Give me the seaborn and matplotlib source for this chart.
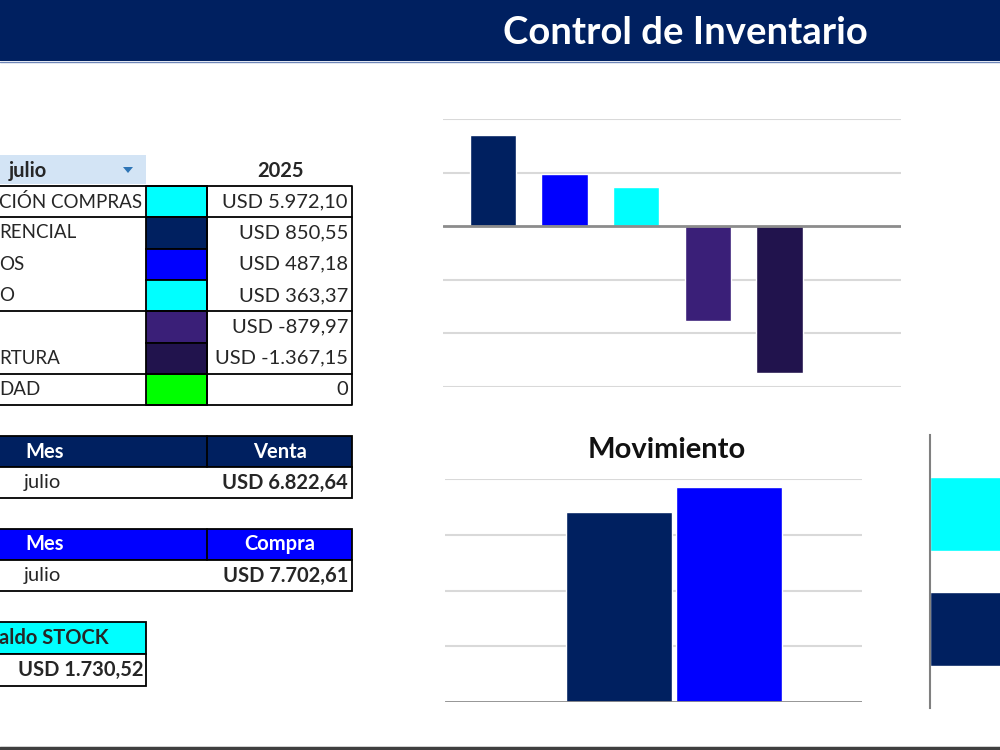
import matplotlib
matplotlib.use("Agg")
import matplotlib.pyplot as plt
import matplotlib.patches as mpatches
import seaborn as sns
import pandas as pd

# datos del tablero
mes = "julio"
anio = "2025"
conceptos = ["CIÓN COMPRAS", "RENCIAL", "OS", "O", "", "RTURA", "DAD"]
montos = [5972.10, 850.55, 487.18, 363.37, -879.97, -1367.15, 0]
colores = ["#00FFFF", "#002060", "#0000FF", "#00FFFF", "#3A1F78", "#21134D", "#00FF00"]

mov_tipo = ["Venta", "Compra"]
mov_monto = [6822.64, 7702.61]
mov_color = ["#002060", "#0000FF"]

saldo_stock = 1730.52
lat_cats = ["Saldo STOCK", "Venta"]
lat_vals = [saldo_stock, mov_monto[0]]
lat_color = ["#00FFFF", "#002060"]

NAVY = "#002060"


def usd(v):
    if v == 0:
        return "0"
    s = f"{v:,.2f}".replace(",", "X").replace(".", ",").replace("X", ".")
    return "USD " + s


sns.set_style("white")
plt.rcParams['font.family'] = ['Lato', 'DejaVu Sans']

fig = plt.figure(figsize=(10, 7.5), dpi=100)

# fondo en pixeles para encabezado y tablas
bg = fig.add_axes([0, 0, 1, 1], zorder=0)
bg.set_xlim(0, 1000)
bg.set_ylim(750, 0)
bg.axis("off")

bg.add_patch(mpatches.Rectangle((0, 0), 1000, 61, color=NAVY, lw=0))
bg.plot([0, 1000], [62, 62], color="#6F86B8", lw=1)
bg.text(685, 33, "Control de Inventario", color="white", fontsize=27.5,
        fontweight="bold", ha="center", va="center")
bg.plot([0, 1000], [747.5, 747.5], color="#3F3F3F", lw=2.5)

fs = 14.5
lw = 1.3

# tabla 1
bg.add_patch(mpatches.Rectangle((0, 155), 146, 29, color="#D3E4F5", lw=0))
bg.text(9, 171, mes, fontsize=fs, fontweight="bold", va="center")
bg.add_patch(mpatches.Polygon([[123, 167], [133, 167], [128, 173]], color="#2E75B6", lw=0))
bg.text(280, 171, anio, fontsize=fs, fontweight="bold", ha="center", va="center")

top = 186
rh = 31.3
col_clip = mpatches.Rectangle((-5, top), 151, 7 * rh, transform=bg.transData)
for i, (c, m, col) in enumerate(zip(conceptos, montos, colores)):
    y0 = top + i * rh
    bg.add_patch(mpatches.Rectangle((146, y0), 61, rh, facecolor=col,
                                    edgecolor="black", lw=lw))
    t = bg.text(-1, y0 + rh / 2, c, fontsize=13.5, va="center")
    t.set_clip_path(col_clip)
    bg.text(348, y0 + rh / 2, usd(m), fontsize=fs, ha="right", va="center")
bot = top + len(montos) * rh
bg.plot([-5, 352, 352, -5], [top, top, bot, bot], color="black", lw=lw)
for k in [1, 4, 6]:
    bg.plot([-5, 352], [top + k * rh] * 2, color="black", lw=lw)
bg.plot([207, 207], [top, bot], color="black", lw=lw)

# tablas venta / compra
for y0, head, fill, val in [(436, "Venta", NAVY, mov_monto[0]),
                             (529, "Compra", "#0000FF", mov_monto[1])]:
    bg.add_patch(mpatches.Rectangle((-5, y0), 357, 31, facecolor=fill,
                                    edgecolor="black", lw=lw))
    bg.plot([207, 207], [y0, y0 + 31], color="black", lw=lw)
    bg.text(45, y0 + 15.5, "Mes", color="white", fontsize=fs,
            fontweight="bold", ha="center", va="center")
    bg.text(280, y0 + 15.5, head, color="white", fontsize=fs,
            fontweight="bold", ha="center", va="center")
    bg.add_patch(mpatches.Rectangle((-5, y0 + 31), 357, 31, facecolor="white",
                                    edgecolor="black", lw=lw))
    bg.text(24, y0 + 46.5, mes, fontsize=fs, va="center")
    bg.text(348, y0 + 46.5, usd(val), fontsize=fs, fontweight="bold",
            ha="right", va="center")

# saldo stock
bg.add_patch(mpatches.Rectangle((-5, 622), 151, 32, facecolor="#00FFFF",
                                edgecolor="black", lw=lw))
bg.text(-1, 638, "aldo STOCK", fontsize=fs, fontweight="bold", va="center")
bg.add_patch(mpatches.Rectangle((-5, 654), 151, 32, facecolor="white",
                                edgecolor="black", lw=lw))
bg.text(143, 670, usd(saldo_stock), fontsize=fs, fontweight="bold",
        ha="right", va="center")


def clean(ax):
    ax.set_facecolor("none")
    ax.set_xlabel("")
    ax.set_ylabel("")
    ax.set_xticks([])
    ax.tick_params(left=False, bottom=False, labelleft=False, labelbottom=False)
    for s in ax.spines.values():
        s.set_visible(False)


# grafico de conceptos
ax1 = fig.add_axes([0.443, 0.484, 0.458, 0.3573], zorder=1)
df1 = pd.DataFrame({"concepto": [str(i) for i in range(6)], "monto": montos[1:]})
sns.barplot(data=df1, x="concepto", y="monto", hue="concepto",
            palette=colores[1:], saturation=1, width=0.65, legend=False, ax=ax1)
ax1.set_xlim(-0.7, 5.7)
ax1.set_ylim(-1500, 1000)
ax1.set_yticks([-1500, -1000, -500, 500, 1000])
ax1.yaxis.grid(True, color="#D9D9D9", lw=1.5)
ax1.set_axisbelow(True)
ax1.axhline(0, color="#8C8C8C", lw=2)
clean(ax1)

# grafico movimiento
ax2 = fig.add_axes([0.445, 0.064, 0.417, 0.2973], zorder=1)
df2 = pd.DataFrame({"mes": [mes] * 2, "tipo": mov_tipo, "monto": mov_monto})
sns.barplot(data=df2, x="mes", y="monto", hue="tipo", palette=mov_color,
            saturation=1, width=0.8, gap=0.036, legend=False, ax=ax2)
ax2.set_xlim(-0.833, 0.684)
ax2.set_ylim(0, 8000)
ax2.set_yticks([2000, 4000, 6000, 8000])
ax2.yaxis.grid(True, color="#D9D9D9", lw=1.5)
ax2.set_axisbelow(True)
ax2.axhline(0, color="#8C8C8C", lw=2)
clean(ax2)
fig.text(0.667, 0.4, "Movimiento", fontsize=21, fontweight="bold",
         ha="center", va="center", color="#111111")

# grafico lateral (cortado)
ax3 = fig.add_axes([0.93, 0.056, 0.3, 0.364], zorder=1)
df3 = pd.DataFrame({"cat": lat_cats, "val": lat_vals})
sns.barplot(data=df3, y="cat", x="val", hue="cat", palette=lat_color,
            orient="h", saturation=1, width=0.64, legend=False, ax=ax3)
ax3.set_ylim(1.69, -0.69)
ax3.set_xlim(0, 2000)
clean(ax3)
ax3.set_yticks([])
ax3.spines["left"].set_visible(True)
ax3.spines["left"].set_color("#808080")
ax3.spines["left"].set_linewidth(1.5)

fig.savefig("out.png", dpi=100)
